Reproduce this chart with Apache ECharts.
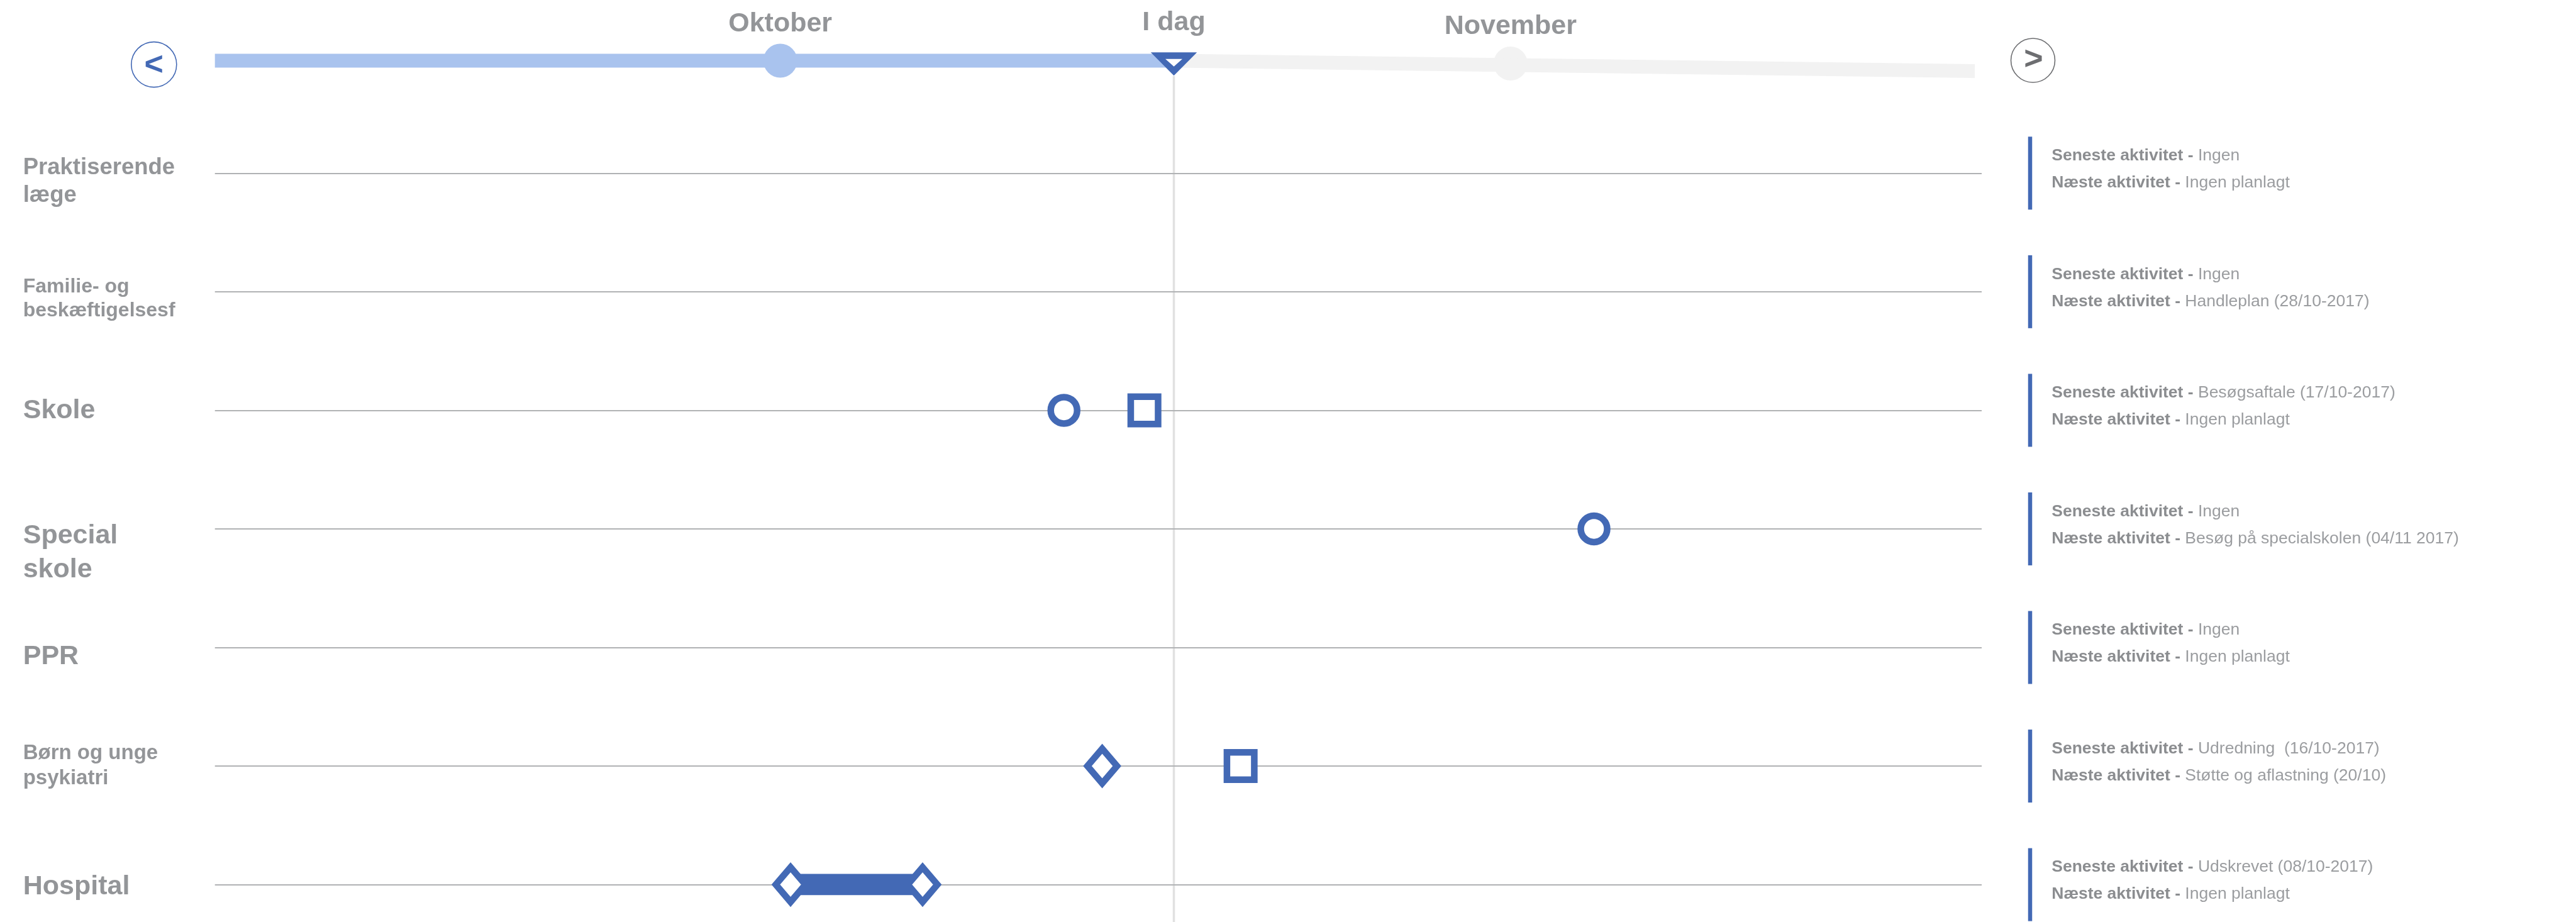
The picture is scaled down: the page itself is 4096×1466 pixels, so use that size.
<!DOCTYPE html>
<html lang="da">
<head>
    <meta charset="UTF-8">
    <title>Tidslinje</title>
    <script src="https://cdn.jsdelivr.net/npm/echarts@6.0.0/dist/echarts.min.js"></script>
    <style>
        html, body { margin: 0; padding: 0; background: #fff; }
    </style>
</head>
<body>
<div id="main" style="width: 4096px;height:1466px;"></div>
<script type="text/javascript">
    // rækker
    var raekker = ["Praktiserende\nlæge", "Familie- og\nbeskæftigelsesf", "Skole", "Special\nskole", "PPR", "Børn og unge\npsykiatri", "Hospital"];
    var senesteAktivitet = ["Ingen", "Ingen", "Besøgsaftale (17/10-2017)", "Ingen", "Ingen", "Udredning  (16/10-2017)", "Udskrevet (08/10-2017)"];
    var naesteAktivitet = ["Ingen planlagt", "Handleplan (28/10-2017)", "Ingen planlagt", "Besøg på specialskolen (04/11 2017)", "Ingen planlagt", "Støtte og aflastning (20/10)", "Ingen planlagt"];

    // hændelser (dato, række, form)
    var haendelseDato = ["2017-10-13 01:00", "2017-10-16 11:00", "2017-11-04 13:00", "2017-10-14 16:00", "2017-10-20 13:00", "2017-10-01 10:30", "2017-10-07 01:00"];
    var haendelseRaekke = [2, 2, 3, 5, 5, 6, 6];
    var haendelseForm = ["circle", "rect", "circle", "diamond", "rect", "diamond", "diamond"];

    // indlæggelse på hospital
    var indlaeggelse = ["2017-10-01 10:30", "2017-10-07 01:00"];
    var indlaeggelseRaekke = 6;

    // tidslinjen øverst
    var periode = ["2017-09-07 00:00", "2017-11-21 00:00"];
    var iDag = "2017-10-17 17:00";
    var maaneder = ["Oktober", "November"];
    var maanedDato = ["2017-10-01 00:00", "2017-11-01 00:00"];
    var maanedNiveau = [0, -0.09];
    var fremtidSlut = "2017-11-20 17:00";
    var fremtidNiveau = -0.33;

    function t(s) {
        return echarts.time.parse(s).getTime();
    }

    var font = "Liberation Sans, Arial, sans-serif";
    var blaa = "#4369b5";
    var graa = "#939598";

    // skrift pr. række: størrelse, linjehøjde, forskydning
    var raekkeSkrift = [36.5, 32, 43, 43, 43, 33, 43];
    var raekkeLinje = [44.4, 38, 52, 53.3, 52, 40.4, 52];
    var raekkeForskyd = [13.5, 11.7, 1.2, 38.3, 14.5, 0, 4];

    var rich = {};
    raekker.forEach(function (r, i) {
        rich["t" + i] = {fontFamily: font, fontWeight: "bold", fontSize: raekkeSkrift[i], lineHeight: raekkeLinje[i], color: graa};
        rich["s" + i] = {fontSize: 1, lineHeight: raekkeForskyd[i] * 2};
    });

    var formStr = {circle: 42, rect: 43.5, diamond: [47, 55]};

    var myChart = echarts.init(document.getElementById("main"));

    function tidsakse(g) {
        return {type: "time", gridIndex: g, min: t(periode[0]), max: t(periode[1]), show: false};
    }

    var option = {
        animation: false,
        backgroundColor: "#fff",
        grid: [
            {left: 341.7, right: 945, top: 46.5, height: 100, outerBoundsMode: "none"},
            {left: 341.7, right: 945, top: 275.3, bottom: 59.4, outerBoundsMode: "none"},
            {left: 341.7, right: 945, top: 121, bottom: 0, outerBoundsMode: "none"},
            {left: 3224.75, width: 6.5, top: 275.3, bottom: 59.4, outerBoundsMode: "none"}
        ],
        xAxis: [
            tidsakse(0),
            tidsakse(1),
            tidsakse(2),
            {type: "value", gridIndex: 3, min: 0, max: 1, show: false}
        ],
        yAxis: [
            {type: "value", gridIndex: 0, min: -1, max: 1, show: false},
            {
                type: "category",
                gridIndex: 1,
                data: raekker,
                inverse: true,
                boundaryGap: false,
                axisLine: {show: false},
                axisTick: {show: false},
                splitLine: {show: true, interval: 0, lineStyle: {color: "#b0b2b4", width: 2}},
                axisLabel: {
                    interval: 0,
                    align: "left",
                    margin: 305,
                    formatter: function (value, index) {
                        var linjer = value.split("\n").map(function (l) {
                            return "{t" + index + "|" + l + "}";
                        });
                        var s = raekkeForskyd[index] > 0 ? "{s" + index + "| }\n" : "";
                        return s + linjer.join("\n");
                    },
                    rich: rich
                }
            },
            {type: "value", gridIndex: 2, min: 0, max: 1, show: false},
            {type: "category", gridIndex: 3, data: raekker, inverse: true, boundaryGap: false, show: false}
        ],
        graphic: [
            {type: "circle", shape: {cx: 244.8, cy: 102.6, r: 36}, style: {fill: "#fff", stroke: blaa, lineWidth: 1.6}},
            {type: "text", x: 244.8, y: 104.2, style: {text: "<", fill: blaa, font: "bold 52px " + font, align: "center", verticalAlign: "middle", textAlign: "center", textVerticalAlign: "middle"}},
            {type: "circle", shape: {cx: 3232.5, cy: 96, r: 35}, style: {fill: "#fff", stroke: "#6d6e71", lineWidth: 1.6}},
            {type: "text", x: 3233.5, y: 96, style: {text: ">", fill: "#6d6e71", font: "bold 52px " + font, align: "center", verticalAlign: "middle", textAlign: "center", textVerticalAlign: "middle"}}
        ],
        series: [
            // lodret linje for i dag
            {
                type: "line", xAxisIndex: 2, yAxisIndex: 2, silent: true, z: -1,
                data: [[t(iDag), 0], [t(iDag), 1]],
                symbol: "none",
                lineStyle: {color: "#e1e1e1", width: 3.5}
            },
            // forløbet tid
            {
                type: "line", xAxisIndex: 0, yAxisIndex: 0, silent: true,
                data: [[t(periode[0]), 0], [t(iDag), 0]],
                symbol: "none",
                lineStyle: {color: "#a9c3ee", width: 22, cap: "butt", opacity: 1}
            },
            // kommende tid
            {
                type: "line", xAxisIndex: 0, yAxisIndex: 0, silent: true,
                data: [[t(iDag), 0], [t(fremtidSlut), fremtidNiveau]],
                symbol: "none",
                lineStyle: {color: "#f2f2f2", width: 22, cap: "butt", opacity: 1}
            },
            // måneder
            {
                type: "scatter", xAxisIndex: 0, yAxisIndex: 0, silent: true, clip: false,
                symbolSize: 54,
                data: maaneder.map(function (m, i) {
                    return {name: m, value: [t(maanedDato[i]), maanedNiveau[i]], itemStyle: {color: i === 0 ? "#a9c3ee" : "#f2f2f2", opacity: 1}};
                }),
                label: {
                    show: true, position: "top", distance: 10, formatter: "{b}",
                    fontFamily: font, fontWeight: "bold", fontSize: 43, lineHeight: 43, color: graa
                }
            },
            // i dag markør
            {
                type: "scatter", xAxisIndex: 0, yAxisIndex: 0, silent: true, clip: false, z: 3,
                symbol: "triangle", symbolRotate: 180, symbolSize: [73.5, 37], symbolOffset: [0, 5.3],
                data: [{name: "I dag", value: [t(iDag), 0]}],
                itemStyle: {color: blaa, opacity: 1},
                label: {
                    show: true, position: "top", distance: 26, formatter: "{b}",
                    fontFamily: font, fontWeight: "bold", fontSize: 43, lineHeight: 43, color: graa
                }
            },
            {
                type: "scatter", xAxisIndex: 0, yAxisIndex: 0, silent: true, clip: false, z: 4,
                symbol: "triangle", symbolRotate: 180, symbolSize: [27, 12], symbolOffset: [0, 3.3],
                data: [[t(iDag), 0]],
                itemStyle: {color: "#fff", opacity: 1}
            },
            // indlæggelse
            {
                type: "line", xAxisIndex: 1, yAxisIndex: 1, silent: true, clip: false, z: 3,
                data: indlaeggelse.map(function (d) { return [t(d), indlaeggelseRaekke]; }),
                symbol: "none",
                lineStyle: {color: blaa, width: 34, cap: "butt", opacity: 1}
            },
            // hændelser
            {
                type: "scatter", xAxisIndex: 1, yAxisIndex: 1, silent: true, clip: false, z: 4,
                data: haendelseDato.map(function (d, i) {
                    return {value: [t(d), haendelseRaekke[i]], symbol: haendelseForm[i], symbolSize: formStr[haendelseForm[i]]};
                }),
                itemStyle: {color: "#fff", borderColor: blaa, borderWidth: 10.5, opacity: 1}
            },
            // aktivitetsoversigt til højre
            {
                type: "scatter", xAxisIndex: 3, yAxisIndex: 3, silent: true, clip: false,
                symbol: "rect", symbolSize: [6.5, 116],
                data: raekker.map(function (r, i) { return [0.5, i]; }),
                itemStyle: {color: blaa, opacity: 1},
                label: {
                    show: true, position: "right", distance: 31, offset: [0, -6],
                    formatter: function (p) {
                        var i = p.dataIndex;
                        return "{b|Seneste aktivitet - }{r|" + senesteAktivitet[i] + "}\n{b|Næste aktivitet - }{r|" + naesteAktivitet[i] + "}";
                    },
                    rich: {
                        b: {fontFamily: font, fontWeight: "bold", fontSize: 26.5, lineHeight: 43, color: "#8b8d90"},
                        r: {fontFamily: font, fontSize: 26.5, lineHeight: 43, color: "#9b9da0"}
                    }
                }
            }
        ]
    };

    myChart.setOption(option);
</script>
</body>
</html>
